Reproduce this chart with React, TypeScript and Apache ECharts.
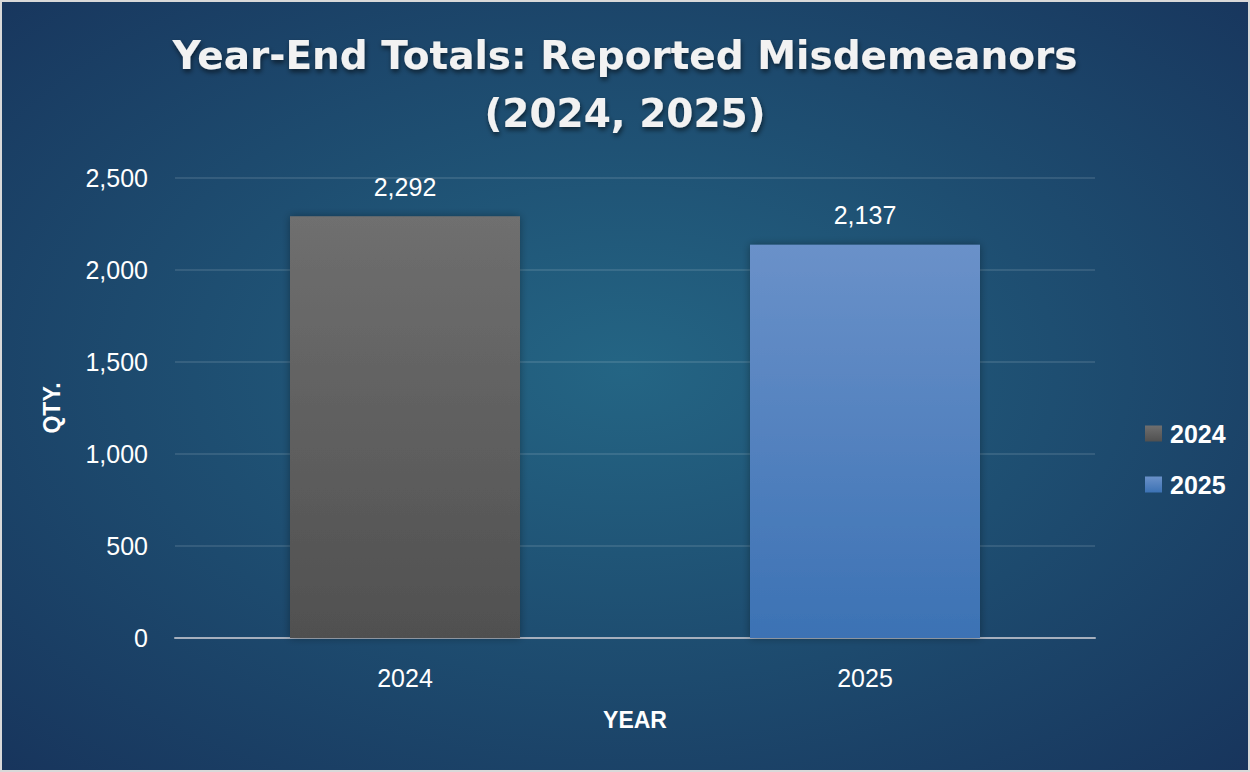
import React, { useEffect, useRef } from "react";
import * as echarts from "echarts";

const categories = ["2024", "2025"];
const seriesNames = ["2024", "2025"];
const values2024 = [2292, null];
const values2025 = [null, 2137];
const yTicks = { min: 0, max: 2500, interval: 500 };
const titleText = "Year-End Totals: Reported Misdemeanors\n(2024, 2025)";

export default function App() {
  const ref = useRef<HTMLDivElement>(null);
  useEffect(() => {
    document.body.style.margin = "0";
    const chart = echarts.init(ref.current!, null, { renderer: "svg" });
    const labelFont = "'Liberation Sans', Arial, sans-serif";
    const dataLabel = {
      show: true,
      position: "top",
      distance: 17,
      color: "#ffffff",
      fontSize: 25,
      fontFamily: labelFont,
      formatter: (p: any) => Number(p.value).toLocaleString("en-US"),
    };
    chart.setOption({
      animation: false,
      backgroundColor: {
        type: "radial",
        x: 0.5,
        y: 0.48,
        r: 0.75,
        colorStops: [
          { offset: 0, color: "#246584" },
          { offset: 1, color: "#17335b" },
        ],
      },
      title: {
        text: titleText,
        left: "center",
        top: 19,
        textStyle: {
          color: "#f2f2f2",
          fontSize: 39,
          fontWeight: "bold",
          fontFamily: "'DejaVu Sans', sans-serif",
          lineHeight: 58,
          textShadowColor: "rgba(0,0,0,0.55)",
          textShadowBlur: 5,
          textShadowOffsetX: 1,
          textShadowOffsetY: 3,
        },
      },
      legend: {
        orient: "vertical",
        left: 1138,
        top: 414,
        icon: "rect",
        itemWidth: 17,
        itemHeight: 16,
        itemGap: 26,
        data: seriesNames,
        textStyle: {
          color: "#ffffff",
          fontSize: 25,
          fontWeight: "bold",
          fontFamily: labelFont,
          padding: [0, 0, 0, 3],
        },
      },
      grid: { left: 173, right: 153, top: 176, bottom: 132 },
      xAxis: {
        type: "category",
        data: categories,
        name: "YEAR",
        nameLocation: "middle",
        nameGap: 70,
        nameTextStyle: {
          color: "#ffffff",
          fontSize: 23,
          fontWeight: "bold",
          fontFamily: labelFont,
        },
        axisLine: { lineStyle: { color: "#a6afbd", width: 2 } },
        axisTick: { show: false },
        axisLabel: {
          color: "#ffffff",
          fontSize: 25,
          margin: 27,
          fontFamily: labelFont,
        },
      },
      yAxis: {
        type: "value",
        min: yTicks.min,
        max: yTicks.max,
        interval: yTicks.interval,
        name: "QTY.",
        nameLocation: "middle",
        nameGap: 112,
        nameTextStyle: {
          color: "#ffffff",
          fontSize: 23,
          fontWeight: "bold",
          fontFamily: labelFont,
        },
        axisLine: { show: false },
        axisTick: { show: false },
        splitLine: { lineStyle: { color: "rgba(255,255,255,0.15)", width: 1.5 } },
        axisLabel: {
          color: "#ffffff",
          fontSize: 25,
          margin: 27,
          fontFamily: labelFont,
          formatter: (v: number) => v.toLocaleString("en-US"),
        },
      },
      series: [
        {
          name: seriesNames[0],
          type: "bar",
          data: values2024,
          barWidth: "50%",
          barGap: "-100%",
          itemStyle: {
            color: {
              type: "linear",
              x: 0, y: 0, x2: 0, y2: 1,
              colorStops: [
                { offset: 0, color: "#6f6f6f" },
                { offset: 1, color: "#505050" },
              ],
            },
            shadowColor: "rgba(0,0,0,0.35)",
            shadowBlur: 8,
          },
          label: dataLabel,
        },
        {
          name: seriesNames[1],
          type: "bar",
          data: values2025,
          barWidth: "50%",
          itemStyle: {
            color: {
              type: "linear",
              x: 0, y: 0, x2: 0, y2: 1,
              colorStops: [
                { offset: 0, color: "#6a91c9" },
                { offset: 1, color: "#3c72b4" },
              ],
            },
            shadowColor: "rgba(0,0,0,0.35)",
            shadowBlur: 8,
          },
          label: dataLabel,
        },
      ],
    });
    return () => chart.dispose();
  }, []);
  return (
    <div
      style={{
        width: 1250,
        height: 772,
        boxSizing: "border-box",
        border: "2px solid #d9d9d9",
        background: "#17335b",
      }}
    >
      <div ref={ref} style={{ width: 1246, height: 768 }} />
    </div>
  );
}
